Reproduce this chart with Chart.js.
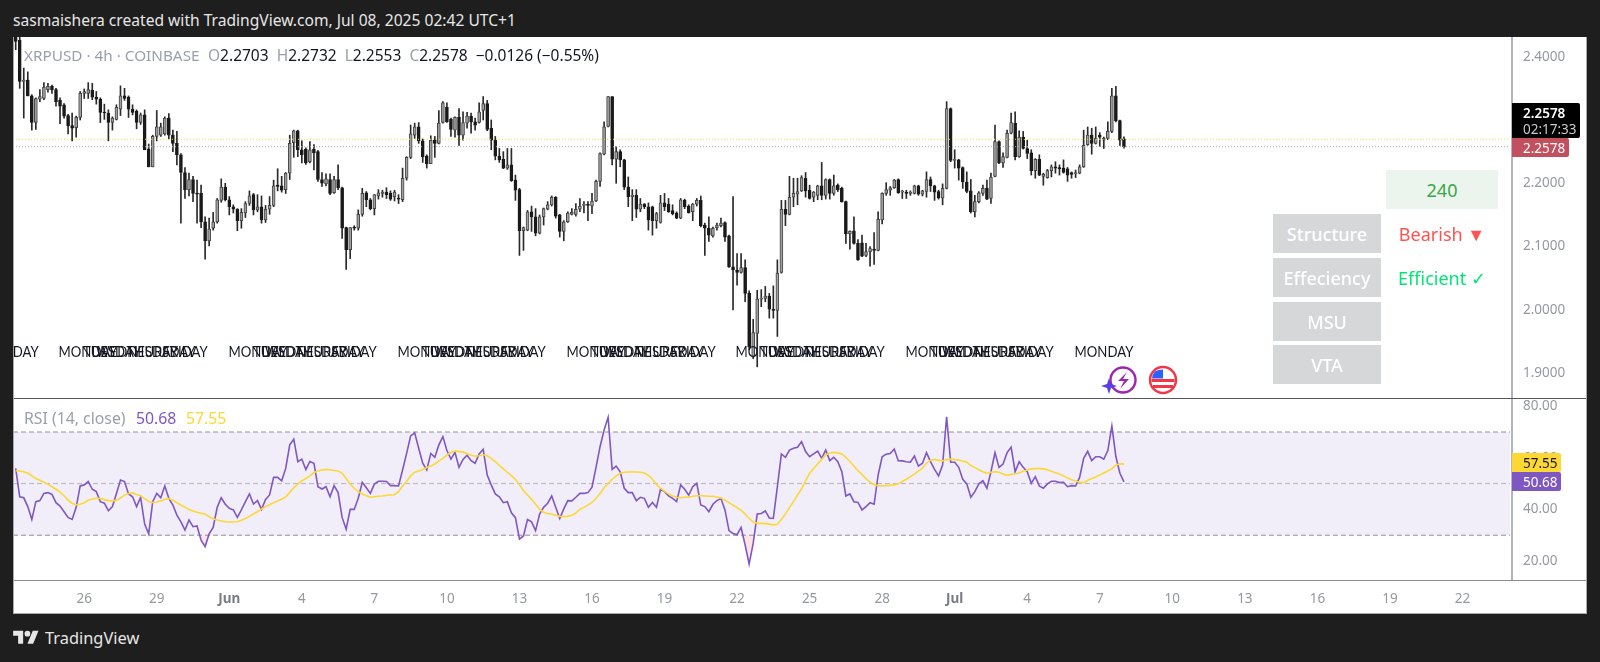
<!DOCTYPE html>
<html><head><meta charset="utf-8"><title>XRPUSD</title>
<script src="https://cdn.jsdelivr.net/npm/chart.js"></script>
<style>
html,body{margin:0;padding:0;background:#1e1e1e;width:1600px;height:662px;overflow:hidden;font-family:"Noto Sans",sans-serif}
#sheet{position:absolute;left:13px;top:37px;width:1574px;height:577px;background:#fff}
canvas{position:absolute;left:13px;display:block}
.t{position:absolute;white-space:nowrap;line-height:1}
.rule{position:absolute}
.cell{position:absolute;display:flex;align-items:center;justify-content:center;font-size:18px;white-space:nowrap}
.badge{position:absolute;left:1512px;font-size:13.5px;display:flex;align-items:center;box-sizing:border-box;padding-left:11px;border-radius:0 2px 2px 0}
#days{position:absolute;left:13px;top:340px;width:1499px;height:24px;overflow:hidden;pointer-events:none}
#days span{position:absolute;top:1px;transform:translateX(-50%) scaleX(0.85);font:400 15.5px/20px Lato,sans-serif;color:#131722;white-space:nowrap}
</style></head><body>
<div id="sheet"></div>
<canvas id="price" width="1574" height="361" style="top:37px;width:1574px;height:361px"></canvas>
<canvas id="rsi" width="1574" height="216" style="top:398px;width:1574px;height:216px"></canvas>
<div class="rule" style="left:13px;top:398px;width:1574px;height:1px;background:#55565c"></div>
<div class="rule" style="left:13px;top:580px;width:1574px;height:1px;background:#8b8c90"></div>
<div class="rule" style="left:13px;top:37px;width:1px;height:577px;background:#a9a9a9"></div>
<div class="rule" style="left:13px;top:613px;width:1574px;height:1px;background:#a9a9a9"></div>
<div class="rule" style="left:1586px;top:37px;width:1px;height:577px;background:#a9a9a9"></div>

<div class="t" style="left:13px;top:13px;font-size:15.6px;color:#e6e6e6">sasmaishera created with TradingView.com, Jul 08, 2025 02:42 UTC+1</div>

<div class="t" style="left:24px;top:48px;font-size:15.3px;color:#9aa0ab">XRPUSD · 4h · COINBASE</div>
<div class="t" id="ohlc" style="left:208px;top:48px;font-size:15.5px;color:#131722"><span style="color:#9aa0ab">O</span>2.2703&nbsp; <span style="color:#9aa0ab">H</span>2.2732&nbsp; <span style="color:#9aa0ab">L</span>2.2553&nbsp; <span style="color:#9aa0ab">C</span>2.2578&nbsp; −0.0126 (−0.55%)</div>

<div class="t" style="left:24px;top:411px;font-size:15.8px;color:#9aa0ab">RSI (14, close)</div>
<div class="t" style="left:136px;top:411px;font-size:15.8px;color:#7e57c2">50.68</div>
<div class="t" style="left:186px;top:411px;font-size:15.8px;color:#fdd835">57.55</div>

<div id="days"></div>

<div class="cell" style="left:1386px;top:170px;width:112px;height:39px;background:#ebf5ed;color:#3aa645">240</div>
<div class="cell" style="left:1273px;top:214px;width:108px;height:39px;background:#d6d7d9;color:#fff;font-weight:500">Structure</div>
<div class="cell" style="left:1273px;top:258px;width:108px;height:39px;background:#d6d7d9;color:#fff;font-weight:500">Effeciency</div>
<div class="cell" style="left:1273px;top:302px;width:108px;height:39px;background:#d6d7d9;color:#fff;font-weight:500">MSU</div>
<div class="cell" style="left:1273px;top:345px;width:108px;height:39px;background:#d6d7d9;color:#fff;font-weight:500">VTA</div>
<div class="cell" style="left:1386px;top:214px;width:112px;height:39px;color:#ff5252">Bearish ▼</div>
<div class="cell" style="left:1386px;top:258px;width:112px;height:39px;color:#00e676">Efficient ✓</div>

<div class="badge" style="top:103px;height:35px;width:68px;background:#000;color:#fff;display:block;padding-top:2px;line-height:16px"><div style="font-weight:600">2.2578</div><div style="color:#c9c9c9">02:17:33</div></div>
<div class="badge" style="top:138px;height:19px;width:57px;background:#c2505f;color:#fff">2.2578</div>
<div class="badge" style="top:453px;height:19px;width:49px;background:#fdd835;color:#131722">57.55</div>
<div class="badge" style="top:472px;height:19px;width:49px;background:#7e57c2;color:#fff">50.68</div>

<svg style="position:absolute;left:1100px;top:364px;z-index:3" width="84" height="34" viewBox="0 0 84 34">
  <circle cx="23" cy="16" r="12.5" fill="#fff" stroke="#9c27b0" stroke-width="2.4"/>
  <path d="M27 8l-9 9h6l-4 8 9-10h-6z" fill="#9c27b0"/>
  <path d="M8 16l2 6 6 2-6 2-2 6-2-6-6-2 6-2z" fill="#5b3fe4" transform="translate(1 -2)"/>
  <circle cx="63" cy="16" r="13" fill="#fff" stroke="#f23645" stroke-width="2.4"/>
  <path d="M51.5 15h23v3h-23zM53 21h20v3H53z" fill="#f23645"/>
  <path d="M55 7.5q3-2 8-2v9h-11q0-4 3-7z" fill="#2962ff"/>
</svg>

<svg style="position:absolute;left:13px;top:628px" width="26" height="20" viewBox="0 0 36 28"><path fill="#e6e6e6" d="M14 22H7V11H0V4h14v18zM28 22h-8l7.5-18h8L28 22z"/><circle fill="#e6e6e6" cx="20" cy="8" r="4"/></svg>
<div class="t" style="left:45px;top:630px;font-size:16.4px;color:#e6e6e6">TradingView</div>

<script>
const opens=[2.440,2.426,2.361,2.363,2.338,2.296,2.333,2.334,2.348,2.353,
2.348,2.331,2.324,2.307,2.291,2.288,2.304,2.342,2.342,2.347,
2.336,2.333,2.312,2.311,2.296,2.301,2.317,2.338,2.336,2.317,
2.314,2.296,2.308,2.254,2.226,2.274,2.276,2.278,2.303,2.276,
2.263,2.245,2.217,2.190,2.206,2.184,2.184,2.139,2.109,2.129,
2.139,2.173,2.194,2.174,2.163,2.159,2.141,2.153,2.168,2.182,
2.158,2.163,2.142,2.159,2.165,2.197,2.196,2.190,2.216,2.264,
2.283,2.253,2.254,2.234,2.254,2.250,2.206,2.199,2.206,2.185,
2.206,2.193,2.130,2.095,2.130,2.129,2.151,2.185,2.174,2.160,
2.180,2.184,2.186,2.184,2.179,2.176,
2.174,2.208,2.241,2.276,
2.289,2.267,2.243,2.231,2.268,2.263,2.296,2.320,2.301,2.284,
2.304,2.276,2.295,2.306,2.297,2.296,2.315,2.326,2.287,2.268,
2.243,2.238,2.224,2.229,2.205,2.190,2.125,2.126,2.155,2.147,
2.121,2.147,2.159,2.166,2.178,2.150,2.124,2.139,2.151,2.151,
2.159,2.165,2.166,2.164,2.172,2.203,2.246,2.290,2.337,2.238,
2.250,2.237,2.194,2.179,2.181,2.159,2.167,2.163,2.163,2.141,
2.138,2.169,2.167,2.157,2.153,2.145,2.173,2.164,2.155,2.167,
2.173,2.134,2.129,2.117,2.130,2.133,2.138,2.117,2.068,2.063,
2.059,2.067,2.026,1.926,1.963,2.017,2.018,2.022,2.001,1.999,
2.059,2.159,2.151,2.178,2.183,
2.188,2.208,2.189,2.178,2.181,
2.196,2.181,2.206,2.184,2.197,2.192,2.171,2.120,2.125,2.105,
2.106,2.086,2.092,2.096,2.094,2.142,2.184,2.189,2.193,2.206,
2.186,2.186,2.184,2.184,2.196,2.183,2.187,2.206,2.196,2.187,
2.177,2.192,2.318,2.236,2.237,2.225,2.202,2.188,2.155,2.171,
2.184,2.192,2.176,2.211,2.266,2.232,2.241,2.279,2.295,2.242,
2.273,2.255,2.248,2.220,2.238,2.211,2.209,2.220,2.226,2.225,
2.224,2.223,2.217,2.215,2.216,2.226,2.261,2.276,2.263,2.276,
2.268,2.271,2.282,2.338,2.299,2.2703];
const highs=[2.460,2.440,2.382,2.376,2.340,2.335,2.348,2.359,2.358,2.355,
2.350,2.335,2.326,2.309,2.311,2.306,2.345,2.349,2.359,2.358,
2.345,2.335,2.325,2.316,2.305,2.324,2.354,2.350,2.338,2.324,
2.316,2.311,2.316,2.262,2.276,2.315,2.295,2.305,2.310,2.284,
2.282,2.247,2.225,2.216,2.211,2.205,2.197,2.147,2.145,2.154,
2.176,2.207,2.200,2.179,2.166,2.160,2.160,2.171,2.188,2.184,
2.182,2.180,2.165,2.179,2.205,2.223,2.211,2.217,2.276,2.284,
2.284,2.267,2.256,2.266,2.261,2.252,2.217,2.215,2.215,2.211,
2.229,2.194,2.131,2.130,2.133,2.158,2.192,2.187,2.176,2.182,
2.190,2.189,2.193,2.188,2.189,2.182,
2.224,2.242,2.292,2.295,
2.296,2.270,2.245,2.275,2.274,2.315,2.329,2.327,2.303,2.305,
2.318,2.313,2.312,2.311,2.303,2.327,2.337,2.331,2.300,2.274,
2.255,2.250,2.255,2.255,2.213,2.192,2.131,2.157,2.164,2.160,
2.150,2.161,2.171,2.180,2.179,2.151,2.141,2.155,2.160,2.168,
2.176,2.171,2.171,2.184,2.205,2.248,2.297,2.337,2.337,2.258,
2.253,2.238,2.210,2.190,2.190,2.176,2.168,2.169,2.164,2.154,
2.181,2.184,2.176,2.166,2.155,2.176,2.175,2.166,2.168,2.176,
2.180,2.137,2.147,2.131,2.137,2.145,2.139,2.118,2.179,2.089,
2.089,2.079,2.030,1.985,2.031,2.032,2.037,2.026,2.038,2.079,
2.173,2.173,2.211,2.208,2.208,
2.212,2.217,2.197,2.187,2.197,
2.233,2.207,2.207,2.213,2.199,2.194,2.172,2.125,2.147,2.111,
2.118,2.105,2.100,2.122,2.155,2.185,2.201,2.195,2.206,2.207,
2.189,2.189,2.188,2.197,2.197,2.189,2.218,2.210,2.197,2.189,
2.199,2.329,2.319,2.253,2.238,2.226,2.218,2.206,2.181,2.187,
2.197,2.205,2.216,2.292,2.267,2.248,2.284,2.311,2.313,2.283,
2.282,2.268,2.253,2.239,2.245,2.216,2.222,2.229,2.234,2.229,
2.237,2.225,2.218,2.221,2.229,2.284,2.289,2.287,2.289,2.280,
2.273,2.297,2.350,2.353,2.300,2.2732];
const lows=[2.411,2.350,2.303,2.338,2.284,2.285,2.329,2.332,2.344,2.342,
2.322,2.294,2.303,2.278,2.267,2.273,2.300,2.334,2.334,2.332,
2.325,2.296,2.301,2.267,2.284,2.300,2.307,2.331,2.304,2.308,
2.286,2.293,2.253,2.226,2.226,2.267,2.274,2.276,2.270,2.250,
2.229,2.137,2.176,2.180,2.171,2.137,2.130,2.080,2.101,2.126,
2.137,2.170,2.172,2.150,2.153,2.125,2.129,2.146,2.165,2.150,
2.155,2.137,2.138,2.151,2.163,2.188,2.186,2.184,2.206,2.241,
2.242,2.232,2.230,2.232,2.221,2.203,2.195,2.196,2.182,2.184,
2.190,2.113,2.064,2.081,2.126,2.126,2.148,2.163,2.158,2.150,
2.175,2.178,2.176,2.173,2.172,2.168,
2.171,2.205,2.239,2.271,
2.263,2.233,2.224,2.231,2.241,2.262,2.295,2.296,2.274,2.273,
2.260,2.268,2.287,2.279,2.284,2.295,2.300,2.283,2.253,2.237,
2.233,2.223,2.222,2.203,2.173,2.086,2.094,2.125,2.124,2.117,
2.120,2.134,2.158,2.164,2.145,2.115,2.109,2.138,2.150,2.148,
2.155,2.153,2.141,2.152,2.171,2.195,2.245,2.289,2.229,2.200,
2.226,2.190,2.163,2.141,2.146,2.155,2.160,2.126,2.118,2.129,
2.137,2.157,2.154,2.150,2.144,2.144,2.160,2.153,2.141,2.164,
2.131,2.086,2.108,2.115,2.126,2.131,2.108,2.067,2.000,2.039,
2.058,2.013,1.937,1.923,1.910,2.005,2.013,1.987,1.987,1.958,
2.058,2.133,2.150,2.163,2.166,
2.187,2.178,2.175,2.171,2.174,
2.174,2.175,2.175,2.181,2.187,2.170,2.105,2.096,2.104,2.078,
2.084,2.084,2.069,2.072,2.093,2.136,2.181,2.181,2.192,2.184,
2.176,2.176,2.181,2.183,2.181,2.180,2.178,2.187,2.173,2.175,
2.166,2.191,2.234,2.224,2.205,2.192,2.185,2.153,2.147,2.169,
2.181,2.174,2.168,2.210,2.231,2.225,2.240,2.278,2.237,2.241,
2.254,2.239,2.213,2.208,2.212,2.197,2.208,2.210,2.216,2.213,
2.216,2.203,2.208,2.209,2.215,2.225,2.260,2.246,2.262,2.258,
2.255,2.269,2.280,2.297,2.260,2.2553];
const closes=[2.424,2.361,2.363,2.338,2.296,2.334,2.337,2.352,2.353,2.348,
2.329,2.322,2.306,2.291,2.287,2.304,2.342,2.345,2.348,2.336,
2.333,2.312,2.311,2.296,2.303,2.320,2.338,2.334,2.317,2.312,
2.296,2.308,2.253,2.226,2.274,2.289,2.289,2.303,2.276,2.263,
2.245,2.217,2.190,2.206,2.184,2.183,2.139,2.109,2.128,2.139,
2.174,2.194,2.174,2.163,2.159,2.141,2.154,2.168,2.180,2.158,
2.163,2.142,2.159,2.165,2.196,2.195,2.189,2.216,2.263,2.283,
2.253,2.245,2.232,2.253,2.248,2.206,2.200,2.207,2.184,2.206,
2.193,2.129,2.095,2.130,2.129,2.151,2.184,2.174,2.160,2.182,
2.185,2.186,2.182,2.175,2.186,2.175,
2.208,2.241,2.278,2.289,
2.267,2.242,2.231,2.268,2.263,2.295,2.327,2.297,2.285,2.304,
2.276,2.296,2.306,2.297,2.292,2.313,2.326,2.285,2.268,2.243,
2.237,2.224,2.229,2.204,2.189,2.125,2.130,2.155,2.147,2.121,
2.147,2.160,2.166,2.178,2.148,2.124,2.139,2.153,2.154,2.159,
2.164,2.166,2.165,2.172,2.203,2.247,2.289,2.337,2.238,2.250,
2.237,2.194,2.179,2.181,2.159,2.167,2.163,2.142,2.141,2.152,
2.169,2.163,2.155,2.152,2.145,2.174,2.163,2.153,2.167,2.173,
2.133,2.129,2.118,2.129,2.134,2.137,2.115,2.068,2.063,2.059,
2.067,2.026,1.942,1.964,2.017,2.018,2.022,2.001,1.999,2.058,
2.159,2.151,2.178,2.184,2.187,
2.209,2.188,2.176,2.186,2.196,
2.181,2.206,2.184,2.196,2.190,2.171,2.120,2.124,2.105,2.079,
2.085,2.092,2.097,2.094,2.143,2.184,2.190,2.193,2.205,2.185,
2.187,2.184,2.186,2.196,2.183,2.188,2.206,2.196,2.186,2.177,
2.192,2.318,2.236,2.238,2.224,2.202,2.187,2.155,2.171,2.185,
2.192,2.175,2.210,2.266,2.232,2.242,2.279,2.296,2.242,2.273,
2.255,2.247,2.220,2.238,2.213,2.214,2.220,2.226,2.224,2.223,
2.217,2.213,2.214,2.217,2.226,2.260,2.276,2.263,2.271,2.273,
2.271,2.282,2.338,2.299,2.268,2.2578];
const rsiValues=[55.9,44.9,44.5,41.1,36.1,43.0,43.4,46.2,46.5,45.8,
42.6,41.3,39.1,36.9,36.1,40.8,49.1,49.5,50.8,47.8,
46.9,43.0,42.4,39.5,41.1,46.2,51.4,50.8,46.0,44.9,
41.1,44.7,34.3,30.5,43.0,46.2,44.5,49.1,44.3,41.7,
37.8,35.2,32.0,35.9,33.3,33.6,28.1,25.6,30.5,33.0,
40.8,44.5,42.0,40.4,39.8,36.9,39.8,43.0,46.0,42.1,
43.4,40.0,43.9,45.6,52.4,52.4,51.1,55.9,65.0,67.2,
58.5,59.5,55.5,58.6,57.9,48.8,47.9,48.8,44.9,49.2,
46.5,36.9,32.3,40.0,40.0,44.3,50.5,48.4,46.2,49.8,
50.9,50.9,50.8,49.2,49.2,49.1,
55.3,61.7,68.5,69.7,
63.7,57.9,55.3,61.7,60.2,65.0,68.2,62.8,59.5,62.1,
56.3,59.4,61.0,58.9,57.9,61.5,63.3,53.3,49.5,46.0,
44.9,42.6,43.0,38.7,36.8,28.5,29.7,36.1,35.2,31.8,
38.2,40.8,42.4,45.2,40.8,36.5,40.2,43.4,43.3,44.7,
46.2,46.2,46.5,48.6,56.3,64.3,70.8,75.7,55.5,56.8,
54.6,48.2,46.5,46.5,43.4,44.7,44.3,40.8,42.7,40.8,
47.8,46.9,45.2,44.3,43.0,49.5,47.8,45.5,48.8,50.1,
41.7,41.1,39.1,42.0,43.4,44.2,39.8,31.8,30.7,30.2,
33.0,26.2,18.8,26.8,38.2,38.4,39.4,36.7,36.5,48.8,
61.5,60.2,63.0,63.7,64.1,66.3,
62.4,60.4,61.5,62.6,
59.8,63.0,58.9,60.2,58.5,54.6,45.2,46.0,43.0,42.7,
39.8,41.1,42.6,42.0,53.3,60.4,61.4,61.7,63.4,58.9,
58.8,58.5,58.3,60.7,56.8,57.9,62.0,58.5,55.5,53.0,
57.2,75.9,58.3,58.3,56.3,51.7,49.9,44.7,46.9,49.9,
51.1,48.2,54.6,62.0,56.3,57.6,62.0,64.1,54.6,58.5,
56.3,54.6,50.1,52.7,49.1,48.2,49.9,50.9,50.9,50.4,
50.5,48.8,49.2,49.1,52.4,59.8,62.5,58.9,60.4,60.4,
59.5,62.8,72.3,60.4,54.0,50.68];
const rsiAverage=[55.0,54.9,54.6,54.0,53.0,52.0,51.3,50.5,49.7,48.8,
47.8,46.7,45.3,43.6,42.3,41.8,42.0,42.6,43.6,44.0,
44.3,44.2,43.8,43.4,43.3,43.5,44.4,45.5,46.2,46.4,
45.8,45.3,44.2,43.1,42.7,42.9,43.3,43.9,44.2,43.6,
42.6,41.7,40.8,40.0,39.4,38.9,38.5,38.1,37.2,36.4,
35.9,35.5,35.2,35.1,35.1,35.2,35.8,36.5,37.3,38.2,
39.1,40.2,41.1,41.8,42.6,43.3,43.9,44.9,46.6,48.4,
49.8,51.1,52.0,53.0,54.2,54.9,55.3,55.5,55.4,55.1,
54.9,54.0,52.0,49.8,48.2,46.9,46.0,45.3,44.7,44.9,
45.1,45.2,45.5,45.6,45.7,46.9,
49.1,50.8,53.0,54.4,
54.9,55.5,56.2,56.8,57.6,58.8,59.8,61.1,62.1,62.6,
62.5,62.2,61.7,61.0,60.6,60.8,61.2,60.8,59.8,58.5,
57.1,55.7,54.4,53.1,51.7,49.5,47.3,45.6,43.9,42.0,
40.0,38.9,38.4,38.1,37.7,37.3,37.2,37.3,37.7,38.6,
40.0,40.8,41.7,42.7,44.3,46.2,48.4,50.1,51.7,53.0,
54.0,54.4,54.5,54.5,54.5,54.4,54.1,53.2,51.7,49.7,
48.2,47.0,46.0,45.2,44.7,44.5,44.7,44.7,45.1,45.3,
45.3,45.2,45.1,45.1,44.8,44.4,43.6,42.6,41.6,40.7,
39.6,38.2,36.5,35.1,34.6,34.6,34.5,34.3,34.0,34.2,
36.2,38.2,40.8,43.0,45.6,48.0,
51.1,54.0,55.8,57.7,
59.4,61.1,61.9,62.1,61.9,61.5,60.2,58.6,56.8,55.0,
53.5,51.9,50.6,49.6,49.2,49.1,49.2,49.3,49.5,49.9,
50.8,51.7,52.7,53.7,54.8,56.0,57.9,59.1,59.4,59.0,
58.8,59.3,59.5,59.3,59.1,58.8,58.3,57.0,56.2,55.4,
54.6,54.0,54.4,54.6,54.4,53.7,53.2,53.6,53.8,54.1,
54.8,55.3,55.7,55.8,55.8,55.7,55.4,54.8,54.2,53.7,
53.0,52.2,51.5,51.0,50.5,50.4,51.3,52.0,52.6,53.3,
54.1,54.9,55.8,57.2,57.7,57.55];
const priceTicks=[2.4,2.3,2.2,2.1,2.0,1.9];
const rsiTicks=[80,60,40,20];
const timeLabels=["26","29","Jun","4","7","10","13","16","19","22","25","28","Jul","4","7","10","13","16","19","22"];
const timeCandles=[17,35,53,71,89,107,125,143,161,179,197,215,233,251,269,287,305,323,341,359];
const weekdayNames=["FRIDAY",
"MONDAY","TUESDAY","WEDNESDAY","THURSDAY","FRIDAY",
"MONDAY","TUESDAY","WEDNESDAY","THURSDAY","FRIDAY",
"MONDAY","TUESDAY","WEDNESDAY","THURSDAY","FRIDAY",
"MONDAY","TUESDAY","WEDNESDAY","THURSDAY","FRIDAY",
"MONDAY","TUESDAY","WEDNESDAY","THURSDAY","FRIDAY",
"MONDAY","TUESDAY","WEDNESDAY","THURSDAY","FRIDAY",
"MONDAY"];
const weekdayCandles=[0,18,24,30,36,42,60,66,72,78,84,102,108,114,120,126,144,150,156,162,168,186,192,198,204,210,228,234,240,246,252,270];
const lastPrice=2.2578, markerPrice=2.2695;
const rsiUpper=70, rsiMiddle=50, rsiLower=30;
const xMin=-0.67, xMax=371.29;
const priceMin=1.8608, priceMax=2.4311;
const rsiMin=12.64, rsiMax=83.18;

const axisGrey="#9598a1", axisFont={family:'"Noto Sans"',size:13.5};
function hLine(y,color,dash,extra){
  return Object.assign({type:"line",data:[{x:xMin,y},{x:xMax-0.5,y}],borderColor:color,borderWidth:1,borderDash:dash,pointRadius:0,order:0,fill:false},extra||{});
}
const isMonth=c=>!!(c.tick&&/[a-z]/i.test(c.tick.label||""));
function xAxis(show){
  return {type:"linear",min:xMin,max:xMax,offset:false,display:show,
    grid:{display:false},border:{display:false},
    afterBuildTicks(s){s.ticks=timeCandles.map(value=>({value}));},
    afterFit(s){if(show)s.height=34;s.paddingLeft=0;s.paddingRight=0;},
    ticks:{autoSkip:false,maxRotation:0,padding:3,color:c=>isMonth(c)?"#787b86":axisGrey,
      font:c=>isMonth(c)?{family:axisFont.family,size:13.5,weight:"bold"}:axisFont,
      callback:v=>timeLabels[timeCandles.indexOf(v)]}};
}
function yAxis(min,max,ticks,digits){
  return {position:"right",min,max,grid:{display:false},
    border:{display:true,color:"#b2b5be",width:2},
    afterBuildTicks(s){s.ticks=ticks.map(value=>({value}));},
    afterFit(s){s.width=75;s.paddingTop=0;s.paddingBottom=0;},
    ticks:{padding:3,color:axisGrey,font:axisFont,autoSkip:false,callback:v=>v.toFixed(digits)}};
}
const common={responsive:false,animation:false,devicePixelRatio:1,events:[],
  plugins:{legend:{display:false},tooltip:{enabled:false},title:{display:false}},layout:{padding:0}};

const idx=opens.map((_,i)=>i);
const priceChart=new Chart(document.getElementById("price"),{type:"bar",
  data:{datasets:[
    hLine(markerPrice,"#f0dc4a",[1,2]),
    hLine(lastPrice,"#a9a9a9",[1,2]),
    {type:"bar",grouped:false,order:1,barThickness:3,minBarLength:1,
     data:idx.map(i=>({x:i,y:[opens[i],closes[i]]})),
     backgroundColor:idx.map(i=>closes[i]>=opens[i]?"#a0a0a0":"#1a1a1a"),
     borderColor:idx.map(i=>closes[i]>=opens[i]?"#444":"#1a1a1a"),borderWidth:1,borderSkipped:false},
    {type:"bar",grouped:false,order:2,barThickness:1,
     data:idx.map(i=>({x:i,y:[lows[i],highs[i]]})),
     backgroundColor:"#2a2a2a",borderWidth:0}
  ]},
  options:Object.assign({},common,{scales:{x:xAxis(false),y:yAxis(priceMin,priceMax,priceTicks,4)}})
});

const rsiChart=new Chart(document.getElementById("rsi"),{type:"line",
  data:{datasets:[
    hLine(rsiUpper,"#8f8f96",[5,3],{fill:{target:{value:rsiLower}},backgroundColor:"rgba(126,87,194,0.1)",order:5}),
    hLine(rsiMiddle,"rgba(120,123,134,0.5)",[5,3],{order:4}),
    hLine(rsiLower,"#8f8f96",[5,3],{order:4}),
    {data:rsiValues.map((y,x)=>({x,y})),borderColor:"#7e57c2",borderWidth:1.6,pointRadius:0,tension:0,order:1,
     fill:{target:{value:rsiLower},above:"rgba(0,0,0,0)",below:"rgba(242,54,69,0.13)"}},
    {data:rsiAverage.map((y,x)=>({x,y})),borderColor:"#fdd835",borderWidth:1.6,pointRadius:0,tension:0,order:0,fill:false}
  ]},
  options:Object.assign({},common,{scales:{x:xAxis(true),y:yAxis(rsiMin,rsiMax,rsiTicks,2)}})
});

const days=document.getElementById("days");
weekdayNames.forEach((name,k)=>{
  const s=document.createElement("span");
  s.textContent=name;
  s.style.left=priceChart.scales.x.getPixelForValue(weekdayCandles[k])+"px";
  days.appendChild(s);
});
</script>
</body></html>
